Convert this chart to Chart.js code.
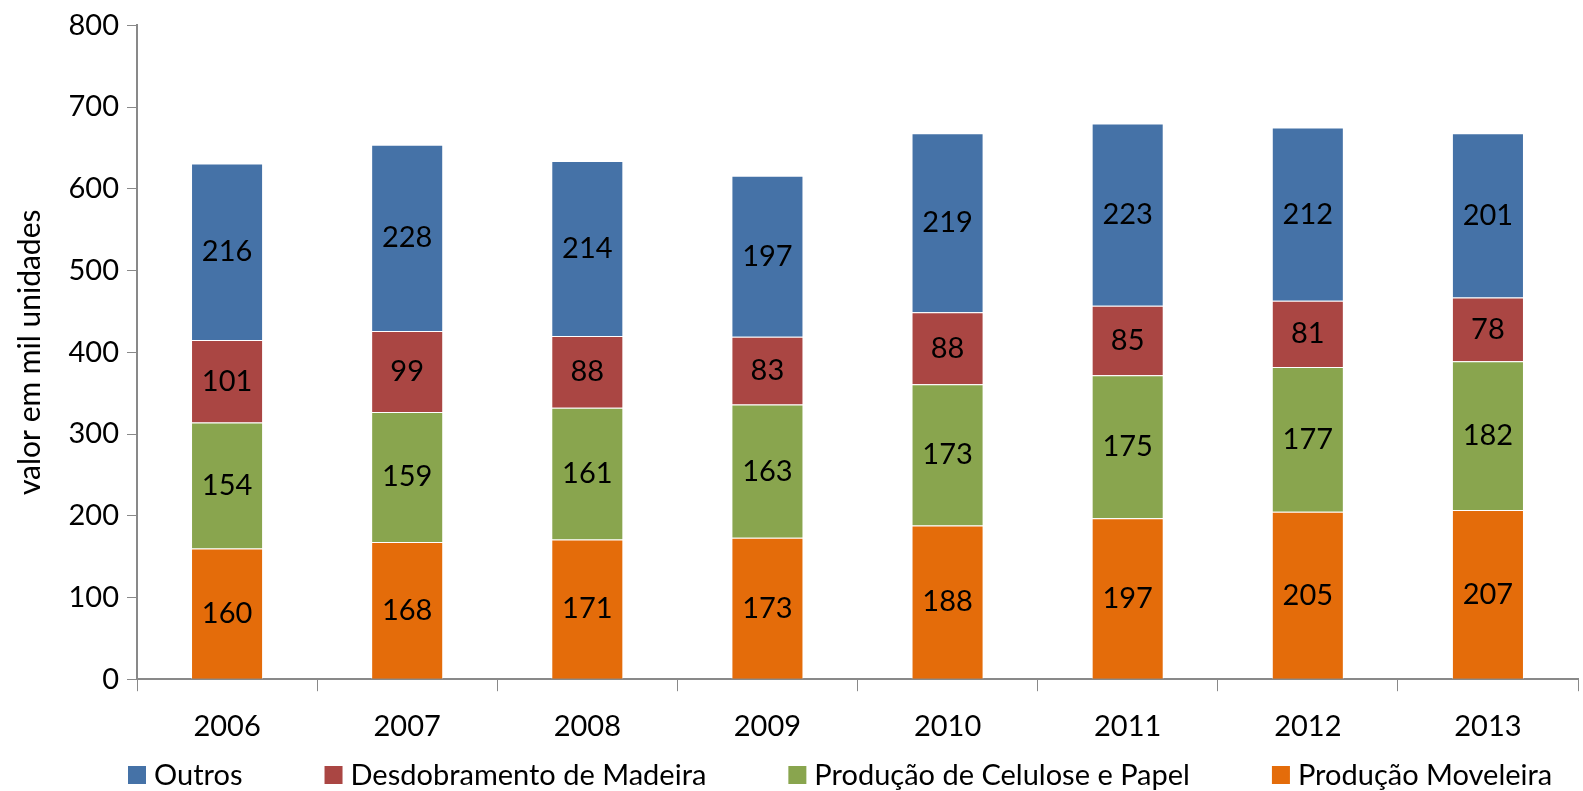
<!DOCTYPE html>
<html>
<head>
<meta charset="utf-8">
<script src="https://cdn.jsdelivr.net/npm/chart.js@4"></script>
<style>
  html, body { margin: 0; padding: 0; background: #fff; }
  #wrap { width: 1583px; height: 791px; }
</style>
</head>
<body>
<div id="wrap"><canvas id="grafico"></canvas></div>
<script>
const anos = ["2006", "2007", "2008", "2009", "2010", "2011", "2012", "2013"];
const moveleira = [160, 168, 171, 173, 188, 197, 205, 207];
const celulose = [154, 159, 161, 163, 173, 175, 177, 182];
const desdobramento = [101, 99, 88, 83, 88, 85, 81, 78];
const outros = [216, 228, 214, 197, 219, 223, 212, 201];
const ticksY = [0, 100, 200, 300, 400, 500, 600, 700, 800];

const fonte = "Lato, 'Open Sans', sans-serif";

// rotulos dentro das barras
const rotulos = {
  id: "rotulos",
  afterDatasetsDraw(chart) {
    const ctx = chart.ctx;
    ctx.save();
    ctx.font = "29px " + fonte;
    ctx.fillStyle = "#000";
    ctx.textAlign = "center";
    ctx.textBaseline = "middle";
    chart.data.datasets.forEach((ds, i) => {
      chart.getDatasetMeta(i).data.forEach((bar, j) => {
        const y = (bar.y + bar.base) / 2;
        ctx.fillText(ds.data[j], bar.x, y);
      });
    });
    ctx.restore();
  }
};

// legenda desenhada na mao (ordem invertida, como no original)
const legenda = {
  id: "legenda",
  afterDraw(chart) {
    const ctx = chart.ctx;
    const itens = chart.data.datasets.slice().reverse();
    ctx.save();
    ctx.font = "29px " + fonte;
    ctx.textBaseline = "middle";
    let x = chart.chartArea.left - 9;
    const y = chart.height - 16;
    itens.forEach(ds => {
      ctx.fillStyle = ds.backgroundColor;
      ctx.fillRect(x, y - 9, 18, 18);
      ctx.fillStyle = "#000";
      ctx.fillText(ds.label, x + 26, y + 1);
      x += 26 + ctx.measureText(ds.label).width + 82;
    });
    ctx.restore();
  }
};

new Chart(document.getElementById("grafico"), {
  type: "bar",
  data: {
    labels: anos,
    datasets: [
      { label: "Produção Moveleira", data: moveleira, backgroundColor: "#E46C0A" },
      { label: "Produção de Celulose e Papel", data: celulose, backgroundColor: "#89A54E" },
      { label: "Desdobramento de Madeira", data: desdobramento, backgroundColor: "#AA4643" },
      { label: "Outros", data: outros, backgroundColor: "#4572A7" }
    ].map(d => Object.assign(d, { borderColor: "rgba(255,255,255,0.5)", borderWidth: 1, barPercentage: 0.4, categoryPercentage: 1 }))
  },
  options: {
    responsive: true,
    maintainAspectRatio: false,
    animation: false,
    layout: { padding: { top: 10, right: 5, left: 0, bottom: 29 } },
    plugins: {
      tooltip: { enabled: false },
      legend: { display: false }
    },
    scales: {
      x: {
        stacked: true,
        grid: { display: true, drawOnChartArea: false, drawTicks: true, tickLength: 12, color: "#898989", offset: true },
        border: { color: "#898989", width: 2 },
        ticks: { color: "#000", font: { size: 29, family: fonte }, padding: 18 }
      },
      y: {
        stacked: true,
        min: 0,
        max: 800,
        afterBuildTicks(scale) { scale.ticks = ticksY.map(v => ({ value: v })); },
        afterFit(scale) { scale.width = 137; },
        grid: { display: true, drawOnChartArea: false, drawTicks: true, tickLength: 10, color: "#898989" },
        border: { color: "#898989", width: 2 },
        ticks: { color: "#000", font: { size: 29, family: fonte }, padding: 8 },
        title: { display: true, text: "valor em mil unidades", color: "#000", font: { size: 30, family: fonte }, padding: { top: 12, bottom: 0 } }
      }
    }
  },
  plugins: [rotulos, legenda]
});
</script>
</body>
</html>
